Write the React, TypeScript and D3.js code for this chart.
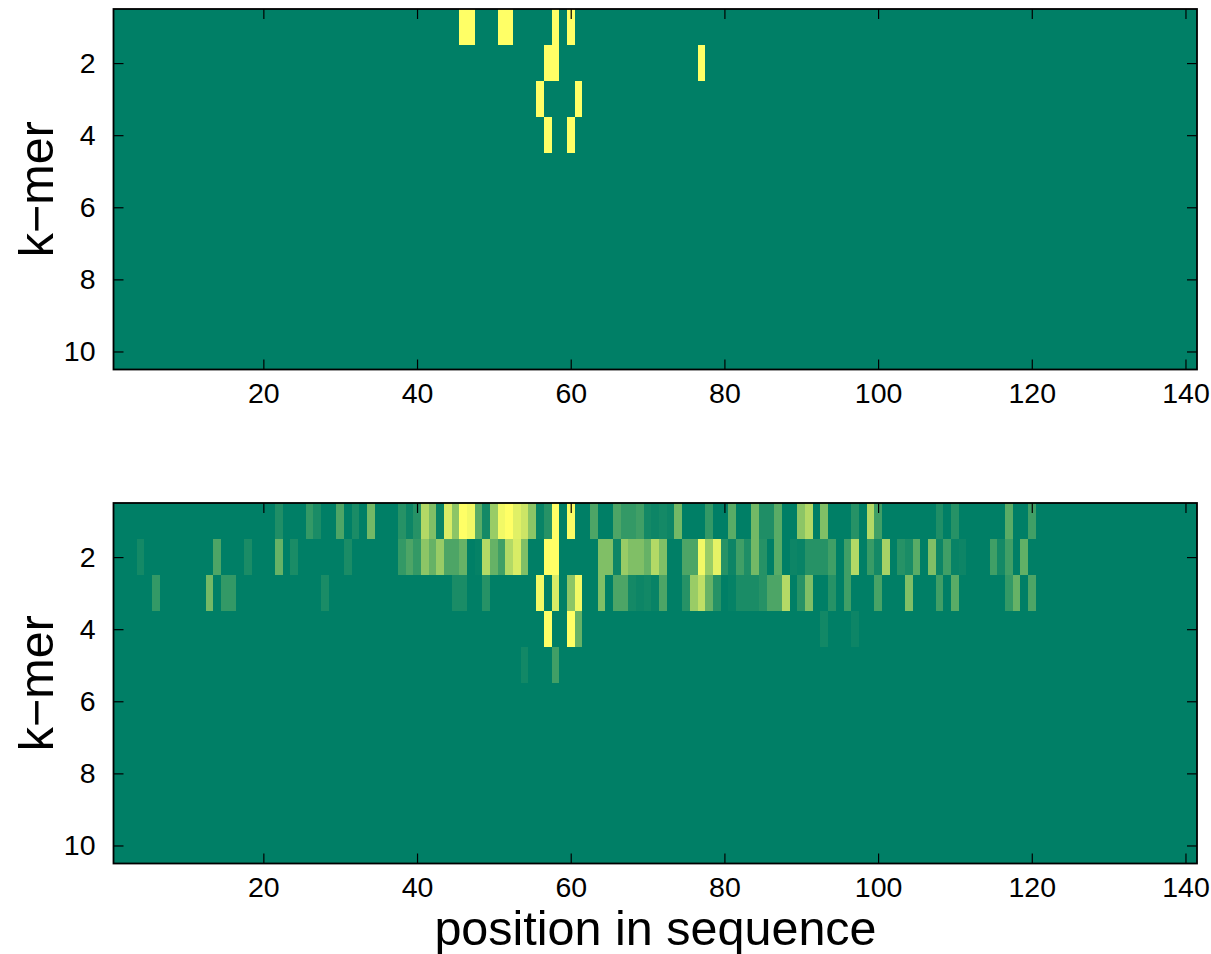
import React, { useEffect, useRef } from 'react'
import * as d3 from 'd3'

const width = 1211
const height = 954
const margin = { left: 113.5, right: 1197 }
const panelHeight = 360.5
const panelTops = [9, 503]

const columnCount = 141
const rowCount = 10
const xTicks = [20, 40, 60, 80, 100, 120, 140]
const yTicks = [2, 4, 6, 8, 10]

type Cell = [number, number]

// [position, intensity 0..1], everything else is 0
const topRow1: Cell[] = [[46, 1], [47, 1], [51, 1], [52, 1], [58, 1], [60, 1]]
const topRow2: Cell[] = [[57, 1], [58, 1], [77, 1]]
const topRow3: Cell[] = [[56, 1], [61, 1]]
const topRow4: Cell[] = [[57, 1], [60, 1]]

const bottomRow1: Cell[] = [
  [22, 0.12], [26, 0.2], [27, 0.1], [30, 0.3], [32, 0.1], [34, 0.45], [38, 0.15], [39, 0.05], [40, 0.15],
  [41, 0.7], [42, 0.5], [43, 0.03], [44, 0.85], [45, 0.55], [46, 1], [47, 0.95], [48, 0.35], [49, 0.08],
  [50, 0.6], [51, 0.95], [52, 1], [53, 0.88], [54, 0.8], [55, 0.55], [56, 0.03], [57, 0.15], [58, 1],
  [60, 0.98], [63, 0.3], [66, 0.3], [67, 0.2], [68, 0.2], [69, 0.25], [70, 0.08], [71, 0.05], [72, 0.08],
  [73, 0.05], [74, 0.45], [78, 0.2], [81, 0.35], [84, 0.45], [85, 0.12], [86, 0.12], [87, 0.35], [90, 0.55],
  [91, 0.7], [93, 0.5], [97, 0.15], [99, 0.7], [100, 0.25], [108, 0.12], [110, 0.15], [117, 0.35], [120, 0.25],
]
const bottomRow2: Cell[] = [
  [4, 0.08], [14, 0.3], [18, 0.1], [22, 0.4], [24, 0.1], [31, 0.1], [38, 0.2], [39, 0.3], [40, 0.2],
  [41, 0.55], [42, 0.4], [43, 0.6], [44, 0.3], [45, 0.3], [46, 0.4], [48, 0.02], [49, 0.7], [50, 0.4],
  [51, 0.25], [52, 0.7], [53, 0.85], [54, 0.5], [57, 1], [58, 1], [64, 0.5], [65, 0.5], [66, 0.05],
  [67, 0.6], [68, 0.5], [69, 0.5], [70, 0.4], [71, 0.7], [72, 0.5], [75, 0.3], [76, 0.3], [77, 0.95],
  [78, 0.6], [79, 0.9], [80, 0.15], [81, 0.05], [82, 0.25], [83, 0.12], [84, 0.45], [85, 0.15], [87, 0.35],
  [89, 0.05], [90, 0.03], [91, 0.15], [92, 0.15], [93, 0.15], [94, 0.25], [96, 0.25], [97, 0.7], [99, 0.22],
  [100, 0.08], [101, 0.65], [103, 0.15], [104, 0.1], [105, 0.35], [107, 0.5], [108, 0.05], [109, 0.25],
  [110, 0.03], [111, 0.05], [115, 0.25], [116, 0.08], [117, 0.25], [119, 0.38],
]
const bottomRow3: Cell[] = [
  [6, 0.2], [13, 0.45], [15, 0.2], [16, 0.2], [28, 0.1], [45, 0.1], [46, 0.1], [49, 0.15], [56, 0.95],
  [58, 0.85], [60, 0.55], [61, 0.95], [64, 0.5], [66, 0.3], [67, 0.3], [68, 0.08], [69, 0.05], [70, 0.07],
  [71, 0.03], [72, 0.3], [75, 0.15], [76, 0.6], [77, 0.75], [78, 0.4], [79, 0.15], [81, 0.02], [82, 0.1],
  [83, 0.1], [84, 0.1], [85, 0.15], [86, 0.3], [87, 0.3], [88, 0.7], [90, 0.15], [91, 0.5], [94, 0.15],
  [96, 0.25], [100, 0.28], [104, 0.5], [108, 0.25], [110, 0.35], [117, 0.2], [118, 0.4], [120, 0.3],
]
const bottomRow4: Cell[] = [[57, 1], [60, 1], [61, 0.4], [93, 0.07], [97, 0.05]]
const bottomRow5: Cell[] = [[54, 0.07], [58, 0.25]]

const topRows = [topRow1, topRow2, topRow3, topRow4]
const bottomRows = [bottomRow1, bottomRow2, bottomRow3, bottomRow4, bottomRow5]

const fontFamily = '"Liberation Sans", Arial, sans-serif'
const color = d3.scaleLinear<string>().domain([0, 1]).range(['#007f66', '#ffff66']).interpolate(d3.interpolateRgb)

const x = d3.scaleLinear().domain([0.5, columnCount + 0.5]).range([margin.left, margin.right])
const y = d3.scaleLinear().domain([0.5, rowCount + 0.5]).range([0, panelHeight])

function Panel({ top, rows }: { top: number; rows: Cell[][] }) {
  const axes = useRef<SVGGElement>(null)

  useEffect(() => {
    const g = d3.select(axes.current)
    g.selectAll('*').remove()
    const tickLen = 10
    const bottom = d3.axisBottom(x).tickValues(xTicks).tickSize(-tickLen).tickPadding(tickLen + 3).tickSizeOuter(0)
    const topAxis = d3.axisTop(x).tickValues(xTicks).tickSize(-tickLen).tickFormat(() => '').tickSizeOuter(0)
    const left = d3.axisLeft(y).tickValues(yTicks).tickSize(-tickLen).tickPadding(tickLen + 8).tickSizeOuter(0)
    const right = d3.axisRight(y).tickValues(yTicks).tickSize(-tickLen).tickFormat(() => '').tickSizeOuter(0)

    g.append('g').attr('transform', `translate(0,${panelHeight})`).call(bottom)
    g.append('g').call(topAxis)
    g.append('g').attr('transform', `translate(${margin.left},0)`).call(left)
    g.append('g').attr('transform', `translate(${margin.right},0)`).call(right)

    g.selectAll('.domain').remove()
    g.selectAll('.tick line').attr('stroke', '#000').attr('stroke-width', 1.2)
    g.selectAll('text').attr('font-family', fontFamily).attr('font-size', 28.5).attr('fill', '#000')
  }, [])

  return (
    <g transform={`translate(0,${top})`}>
      <rect x={margin.left} y={0} width={margin.right - margin.left} height={panelHeight} fill={color(0)} />
      {rows.map((row, r) =>
        row.map(([col, v]) => (
          <rect
            key={`${r}-${col}`}
            x={x(col - 0.5)}
            y={y(r + 0.5)}
            width={x(col + 0.5) - x(col - 0.5)}
            height={y(r + 1.5) - y(r + 0.5)}
            fill={color(v)}
            shapeRendering="crispEdges"
          />
        ))
      )}
      <g ref={axes} />
      <rect
        x={margin.left}
        y={0}
        width={margin.right - margin.left}
        height={panelHeight}
        fill="none"
        stroke="#000"
        strokeWidth={1.8}
      />
    </g>
  )
}

export default function App() {
  return (
    <svg width={width} height={height} style={{ position: 'absolute', left: 0, top: 0, background: '#fff' }}>
      <Panel top={panelTops[0]} rows={topRows} />
      <Panel top={panelTops[1]} rows={bottomRows} />
      {panelTops.map(top => (
        <text
          key={top}
          transform={`translate(52.5,${top + panelHeight / 2}) rotate(-90)`}
          textAnchor="middle"
          fontFamily={fontFamily}
          fontSize={48.5}
          fill="#000"
        >
          k−mer
        </text>
      ))}
      <text x={655.5} y={944.5} textAnchor="middle" fontFamily={fontFamily} fontSize={48.5} fill="#000">
        position in sequence
      </text>
    </svg>
  )
}
